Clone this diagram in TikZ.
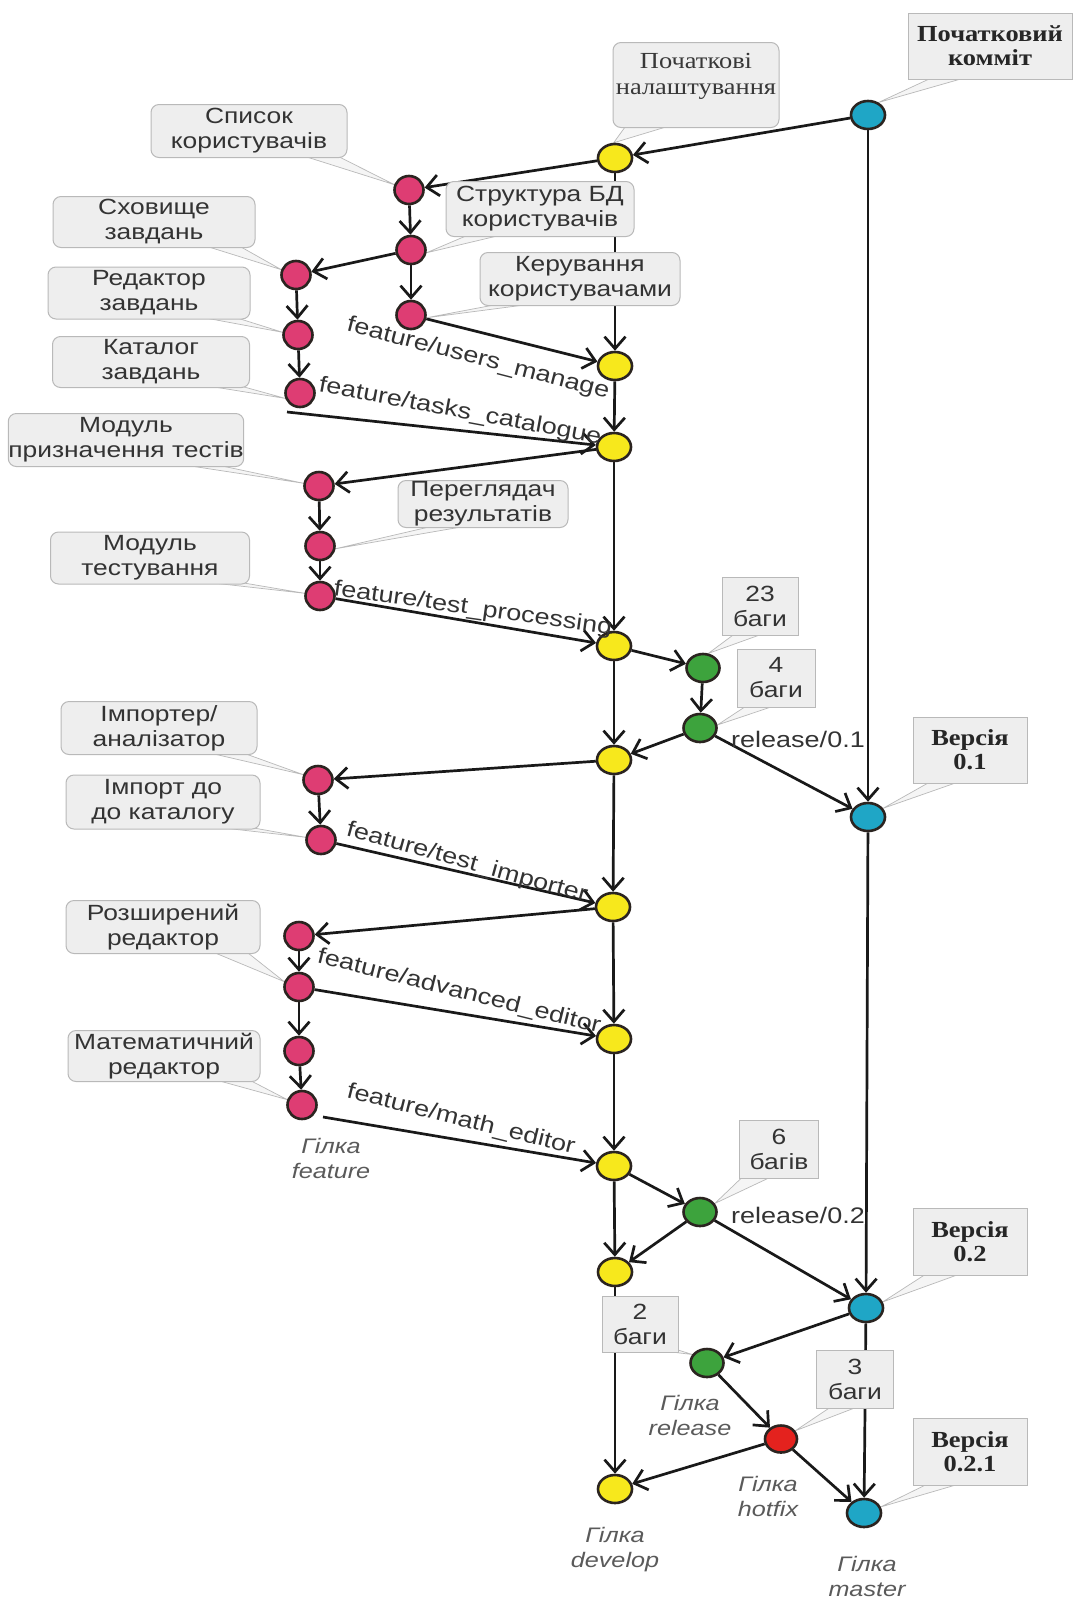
\documentclass[tikz,border=0pt]{standalone}
\usepackage{fontspec}
\setmainfont{Liberation Sans}[FakeStretch=1.2]
\newfontfamily\serifface{Liberation Serif}[FakeStretch=1.15]
\usetikzlibrary{shapes.geometric,arrows.meta,calc}
\definecolor{devfill}{HTML}{F7E81C}
\definecolor{featfill}{HTML}{DE3D73}
\definecolor{relfill}{HTML}{3DA33D}
\definecolor{mastfill}{HTML}{1FA6C6}
\definecolor{hotfill}{HTML}{E4221E}
\definecolor{rim}{HTML}{2B2420}
\definecolor{boxfill}{HTML}{EEEEEE}
\definecolor{boxrim}{HTML}{B9B9B9}
\definecolor{inktext}{HTML}{333333}
\definecolor{captext}{HTML}{5A5A5A}
\pgfdeclarelayer{paper}
\pgfdeclarelayer{edges}
\pgfdeclarelayer{tails}
\pgfsetlayers{paper,edges,tails,main}

\begin{document}
\begin{tikzpicture}[x=1pt,y=-1pt,
  commit/.style={ellipse,draw=rim,line width=2.6pt,minimum width=34pt,minimum height=28pt,inner sep=0pt},
  dev/.style={commit,fill=devfill},
  feat/.style={commit,fill=featfill,minimum width=29pt,minimum height=28pt},
  rel/.style={commit,fill=relfill,minimum width=33pt},
  mast/.style={commit,fill=mastfill},
  hot/.style={commit,fill=hotfill,minimum width=32pt,minimum height=27pt},
  flow/.style={line width=2.7pt,draw=black!90,-{Straight Barb[length=12pt,width=21pt]}},
  note/.style={draw=boxrim,fill=boxfill,line width=1pt,rounded corners=8pt,align=center,
    text=inktext,inner sep=0pt,font=\fontsize{22}{25}\selectfont},
  tag/.style={note,rounded corners=0pt},
  vertag/.style={tag,font=\serifface\bfseries\fontsize{23}{24}\selectfont,text=black!85},
  tail/.style={fill=black!4,draw=boxrim,line width=0.7pt},
  branch/.style={text=inktext,font=\fontsize{22.5}{26}\selectfont,inner sep=0pt},
  lane/.style={text=captext,font=\itshape\fontsize{21}{25}\selectfont,align=center,inner sep=0pt},
]
\useasboundingbox (0,0) rectangle (1075,1599);
\begin{pgfonlayer}{paper}
  \fill[white] (0,0) rectangle (1075,1599);
\end{pgfonlayer}

% master line
\node[mast] (m0) at (868,115) {};
\node[mast] (m1) at (868,817) {};
\node[mast] (m2) at (866,1308) {};
\node[mast] (m3) at (864,1513) {};
% develop line
\node[dev] (d0) at (615,158) {};
\node[dev] (d1) at (615,366) {};
\node[dev] (d2) at (614,447) {};
\node[dev] (d3) at (614,646) {};
\node[dev] (d4) at (614,760) {};
\node[dev] (d5) at (613,907) {};
\node[dev] (d6) at (614,1039) {};
\node[dev] (d7) at (614,1166) {};
\node[dev] (d8) at (615,1272) {};
\node[dev] (d9) at (615,1489) {};
% feature commits
\node[feat] (a1) at (409,190) {};
\node[feat] (a2) at (411,250) {};
\node[feat] (a3) at (411,315) {};
\node[feat] (b1) at (296,275) {};
\node[feat] (b2) at (298,335) {};
\node[feat] (b3) at (300,393) {};
\node[feat] (c1) at (319,486) {};
\node[feat] (c2) at (320,546) {};
\node[feat] (c3) at (320,596) {};
\node[feat] (e1) at (318,780) {};
\node[feat] (e2) at (321,840) {};
\node[feat] (f1) at (299,936) {};
\node[feat] (f2) at (299,987) {};
\node[feat] (f3) at (299,1051) {};
\node[feat] (f4) at (302,1105) {};
% release and hotfix commits
\node[rel] (r1) at (703,668) {};
\node[rel] (r2) at (700,728) {};
\node[rel] (r3) at (700,1212) {};
\node[rel] (r4) at (707,1363) {};
\node[hot] (h) at (781,1439) {};

\coordinate (b3out) at (287,412);
\coordinate (f4out) at (323,1117);

% callout boxes
\node[vertag,minimum width=164pt,minimum height=66pt] (t1) at (990,46) {Початковий\\комміт};
\node[note,font=\serifface\fontsize{23}{26}\selectfont,text=black!78,minimum width=166pt,minimum height=85pt] (t2) at (696,85) {Початкові\\налаштування\\[-4pt]~};
\node[note,minimum width=196pt,minimum height=53pt] (t3) at (249,131) {Список\\користувачів};
\node[note,minimum width=188pt,minimum height=55pt] (t4) at (540,209) {Структура БД\\користувачів};
\node[note,minimum width=202pt,minimum height=51pt] (t5) at (154,222) {Сховище\\завдань};
\node[note,minimum width=200pt,minimum height=53pt] (t6) at (580,279) {Керування\\користувачами};
\node[note,minimum width=202pt,minimum height=52pt] (t7) at (149,293) {Редактор\\завдань};
\node[note,minimum width=197pt,minimum height=51pt] (t8) at (151,362) {Каталог\\завдань};
\node[note,minimum width=233pt,minimum height=53pt] (t9) at (126,440) {Модуль\\призначення тестів};
\node[note,minimum width=170pt,minimum height=47pt] (t10) at (483,504) {Переглядач\\результатів};
\node[note,minimum width=199pt,minimum height=52pt] (t11) at (150,558) {Модуль\\тестування};
\node[tag,minimum width=76pt,minimum height=58pt] (t12) at (760,606) {23\\баги};
\node[tag,minimum width=78pt,minimum height=58pt] (t13) at (776,678) {4\\баги};
\node[vertag,minimum width=114pt,minimum height=66pt] (t14) at (970,750) {Версія\\0.1};
\node[note,minimum width=196pt,minimum height=53pt] (t15) at (159,728) {Імпортер/\\аналізатор};
\node[note,minimum width=194pt,minimum height=54pt] (t16) at (163,802) {Імпорт до\\до каталогу};
\node[note,minimum width=194pt,minimum height=53pt] (t17) at (163,927) {Розширений\\редактор};
\node[note,minimum width=192pt,minimum height=51pt] (t18) at (164,1056) {Математичний\\редактор};
\node[tag,minimum width=79pt,minimum height=58pt] (t19) at (779,1149) {6\\багів};
\node[vertag,minimum width=114pt,minimum height=67pt] (t20) at (970,1242) {Версія\\0.2};
\node[tag,minimum width=76pt,minimum height=56pt] (t21) at (640,1324) {2\\баги};
\node[tag,minimum width=77pt,minimum height=58pt] (t22) at (855,1379) {3\\баги};
\node[vertag,minimum width=114pt,minimum height=67pt] (t23) at (970,1452) {Версія\\0.2.1};

% branch names along the merge lines
\node[branch,rotate=-14.5] (lb1) at (478,359) {feature/users\_manage};
\node[branch,rotate=-10.5] (lb2) at (460,412) {feature/tasks\_catalogue};
\node[branch,rotate=-8] (lb3) at (473,609) {feature/test\_processing};
\node[branch] (lb4) at (798,739) {release/0.1};
\node[branch,rotate=-15.5] (lb5) at (467,863) {feature/test\_importer};
\node[branch,rotate=-14] (lb6) at (459,992) {feature/advanced\_editor};
\node[branch,rotate=-14] (lb7) at (461,1120) {feature/math\_editor};
\node[branch] (lb8) at (798,1215) {release/0.2};

% lane captions
\node[lane] (gf) at (331,1158) {Гілка\\feature};
\node[lane] (gr) at (690,1415) {Гілка\\release};
\node[lane] (gh) at (768,1496) {Гілка\\hotfix};
\node[lane] (gd) at (615,1550) {Гілка\\develop};
\node[lane] (gm) at (867,1576) {Гілка\\master};

\begin{pgfonlayer}{edges}
  \draw[flow] (m0) -- (d0);
  \draw[flow] (m0) -- (m1);
  \draw[flow] (d0) -- (a1);
  \draw[flow] (d0) -- (d1);
  \draw[flow] (a1) -- (a2);
  \draw[flow] (a2) -- (a3);
  \draw[flow] (a2) -- (b1);
  \draw[flow] (b1) -- (b2);
  \draw[flow] (b2) -- (b3);
  \draw[flow] (a3) -- (d1);
  \draw[flow] (d1) -- (d2);
  \draw[flow] (b3out) -- (d2);
  \draw[flow] (d2) -- (c1);
  \draw[flow] (c1) -- (c2);
  \draw[flow] (c2) -- (c3);
  \draw[flow] (c3) -- (d3);
  \draw[flow] (d2) -- (d3);
  \draw[flow] (d3) -- (r1);
  \draw[flow] (r1) -- (r2);
  \draw[flow] (r2) -- (d4);
  \draw[flow] (d3) -- (d4);
  \draw[flow] (r2) -- (m1);
  \draw[flow] (d4) -- (e1);
  \draw[flow] (e1) -- (e2);
  \draw[flow] (e2) -- (d5);
  \draw[flow] (d4) -- (d5);
  \draw[flow] (d5) -- (f1);
  \draw[flow] (f1) -- (f2);
  \draw[flow] (f2) -- (f3);
  \draw[flow] (f3) -- (f4);
  \draw[flow] (f2) -- (d6);
  \draw[flow] (d5) -- (d6);
  \draw[flow] (f4out) -- (d7);
  \draw[flow] (d6) -- (d7);
  \draw[flow] (d7) -- (r3);
  \draw[flow] (r3) -- (d8);
  \draw[flow] (d7) -- (d8);
  \draw[flow] (r3) -- (m2);
  \draw[flow] (m1) -- (m2);
  \draw[flow] (m2) -- (r4);
  \draw[flow] (r4) -- (h);
  \draw[flow] (h) -- (d9);
  \draw[flow] (h) -- (m3);
  \draw[flow] (m2) -- (m3);
  \draw[flow] (d8) -- (d9);
\end{pgfonlayer}

\begin{pgfonlayer}{tails}
  \filldraw[tail] ([shift={(27pt,3pt)}]t1.south west) -- (m0.50) -- ([shift={(62pt,3pt)}]t1.south west) -- cycle;
  \filldraw[tail] ([shift={(14pt,3pt)}]t2.south west) -- (d0.95) -- ([shift={(60pt,3pt)}]t2.south west) -- cycle;
  \filldraw[tail] ([shift={(150pt,3pt)}]t3.south west) -- (a1.160) -- ([shift={(185pt,3pt)}]t3.south west) -- cycle;
  \filldraw[tail] ([shift={(25pt,3pt)}]t4.south west) -- (a2.-10) -- ([shift={(60pt,3pt)}]t4.south west) -- cycle;
  \filldraw[tail] ([shift={(150pt,3pt)}]t5.south west) -- (b1.160) -- ([shift={(185pt,3pt)}]t5.south west) -- cycle;
  \filldraw[tail] ([shift={(25pt,3pt)}]t6.south west) -- (a3.-10) -- ([shift={(60pt,3pt)}]t6.south west) -- cycle;
  \filldraw[tail] ([shift={(150pt,3pt)}]t7.south west) -- (b2.170) -- ([shift={(185pt,3pt)}]t7.south west) -- cycle;
  \filldraw[tail] ([shift={(150pt,3pt)}]t8.south west) -- (b3.-160) -- ([shift={(185pt,3pt)}]t8.south west) -- cycle;
  \filldraw[tail] ([shift={(170pt,3pt)}]t9.south west) -- (c1.170) -- ([shift={(205pt,3pt)}]t9.south west) -- cycle;
  \filldraw[tail] ([shift={(40pt,3pt)}]t10.south west) -- (c2.-10) -- ([shift={(75pt,3pt)}]t10.south west) -- cycle;
  \filldraw[tail] ([shift={(150pt,3pt)}]t11.south west) -- (c3.170) -- ([shift={(185pt,3pt)}]t11.south west) -- cycle;
  \filldraw[tail] ([shift={(15pt,3pt)}]t12.south west) -- (r1.70) -- ([shift={(45pt,3pt)}]t12.south west) -- cycle;
  \filldraw[tail] ([shift={(12pt,3pt)}]t13.south west) -- (r2.10) -- ([shift={(42pt,3pt)}]t13.south west) -- cycle;
  \filldraw[tail] ([shift={(20pt,3pt)}]t14.south west) -- (m1.30) -- ([shift={(50pt,3pt)}]t14.south west) -- cycle;
  \filldraw[tail] ([shift={(145pt,3pt)}]t15.south west) -- (e1.160) -- ([shift={(180pt,3pt)}]t15.south west) -- cycle;
  \filldraw[tail] ([shift={(145pt,3pt)}]t16.south west) -- (e2.170) -- ([shift={(180pt,3pt)}]t16.south west) -- cycle;
  \filldraw[tail] ([shift={(145pt,3pt)}]t17.south west) -- (f2.160) -- ([shift={(180pt,3pt)}]t17.south west) -- cycle;
  \filldraw[tail] ([shift={(145pt,3pt)}]t18.south west) -- (f4.160) -- ([shift={(180pt,3pt)}]t18.south west) -- cycle;
  \filldraw[tail] ([shift={(5pt,3pt)}]t19.south west) -- (r3.30) -- ([shift={(35pt,3pt)}]t19.south west) -- cycle;
  \filldraw[tail] ([shift={(15pt,3pt)}]t20.south west) -- (m2.20) -- ([shift={(50pt,3pt)}]t20.south west) -- cycle;
  \filldraw[tail] ([shift={(-28pt,3pt)}]t21.south east) -- (r4.150) -- ([shift={(-2pt,3pt)}]t21.south east) -- cycle;
  \filldraw[tail] ([shift={(17pt,3pt)}]t22.south west) -- (h.30) -- ([shift={(45pt,3pt)}]t22.south west) -- cycle;
  \filldraw[tail] ([shift={(17pt,3pt)}]t23.south west) -- (m3.20) -- ([shift={(50pt,3pt)}]t23.south west) -- cycle;
\end{pgfonlayer}
\end{tikzpicture}
\end{document}
